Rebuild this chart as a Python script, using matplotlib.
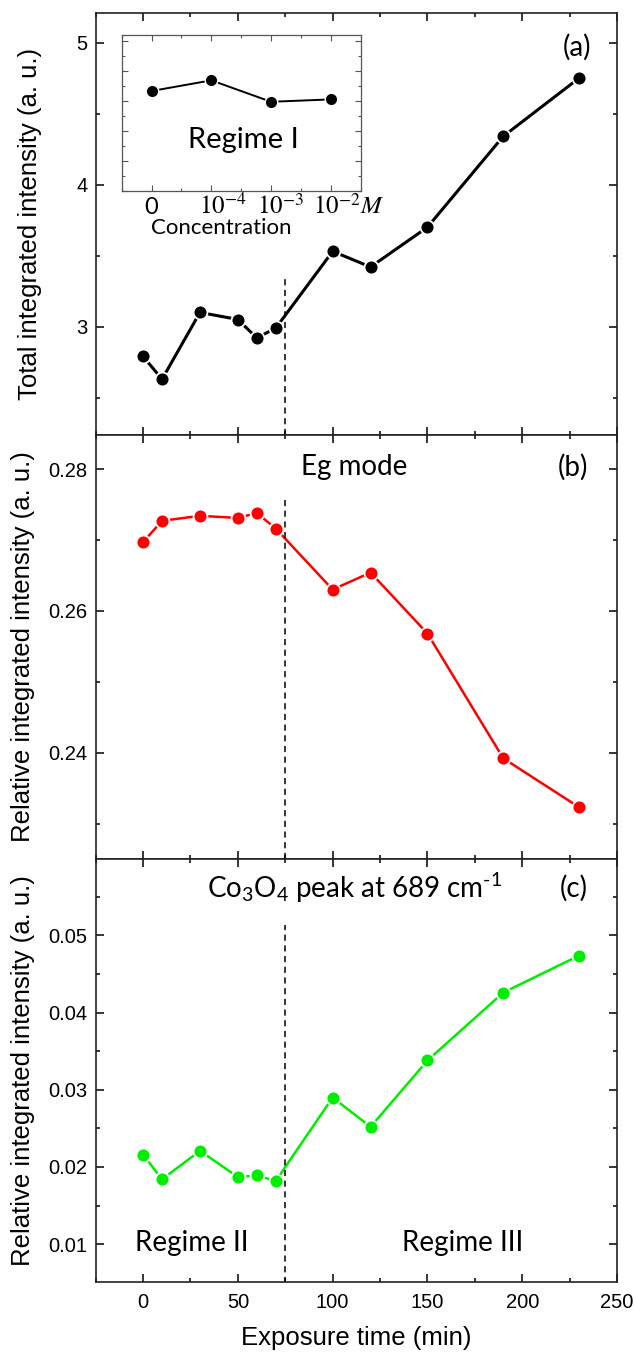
import matplotlib
matplotlib.use('Agg')
import matplotlib.pyplot as plt
from matplotlib.ticker import MultipleLocator

plt.rcParams['font.family'] = ['Liberation Sans', 'DejaVu Sans']
plt.rcParams['mathtext.fontset'] = 'custom'
plt.rcParams['mathtext.rm'] = 'Lato'
plt.rcParams['mathtext.it'] = 'Lato:italic'

# exposure time (min)
time = [0, 10, 30, 50, 60, 70, 100, 120, 150, 190, 230]
total = [2.79, 2.63, 3.10, 3.05, 2.92, 2.99, 3.53, 3.42, 3.70, 4.34, 4.75]
eg_mode = [0.2697, 0.2727, 0.2734, 0.2731, 0.2738, 0.2716, 0.2630, 0.2654, 0.2568, 0.2392, 0.2323]
co3o4 = [0.0216, 0.0184, 0.0221, 0.0187, 0.0189, 0.0182, 0.0290, 0.0252, 0.0338, 0.0426, 0.0474]

# inset: regime I
conc_pos = [0, 1, 2, 3]
conc_labels = ['0', '$10^{-4}$', '$10^{-3}$', '$10^{-2}M$']
regime1 = [6.67, 7.38, 5.95, 6.11]

t_split = 75
lab_font = 'Lato'

fig = plt.figure(figsize=(6.35, 13.53), dpi=100)
ax_a = fig.add_axes([0.1507, 0.6785, 0.821, 0.3121])
ax_b = fig.add_axes([0.1507, 0.3651, 0.821, 0.3134])
ax_c = fig.add_axes([0.1507, 0.05248, 0.821, 0.3126])


def style(ax):
    ax.tick_params(which='both', direction='in', top=True, right=True, labelsize=14.5)
    ax.tick_params(which='major', length=6, width=1.1, pad=6)
    ax.tick_params(which='minor', length=3, width=1.1)
    for s in ax.spines.values():
        s.set_linewidth(1.2)
        s.set_color('#222222')
    ax.set_xlim(-25, 250)
    ax.xaxis.set_major_locator(MultipleLocator(50))
    ax.xaxis.set_minor_locator(MultipleLocator(25))


mk = dict(marker='o', markersize=10, markeredgecolor='white', markeredgewidth=1.3)

# (a)
style(ax_a)
ax_a.plot(time, total, color='black', lw=2.2, markerfacecolor='black', **mk)
ax_a.vlines(t_split, 2.24, 3.34, colors='black', linestyles=(0, (4, 3)), lw=1.1)
ax_a.set_ylim(2.237, 5.21)
ax_a.yaxis.set_major_locator(MultipleLocator(1))
ax_a.yaxis.set_minor_locator(MultipleLocator(0.5))
ax_a.tick_params(labelbottom=False)
ax_a.set_ylabel('Total integrated intensity (a. u.)', fontsize=18.5)
ax_a.yaxis.set_label_coords(-0.103, 0.5)
ax_a.text(228.7, 4.97, '(a)', fontsize=20, family=lab_font, ha='center', va='center')

# (b)
style(ax_b)
ax_b.plot(time, eg_mode, color='#ff0000', lw=1.8, markerfacecolor='#ff0000', **mk)
ax_b.vlines(t_split, 0.225, 0.2761, colors='black', linestyles=(0, (4, 3)), lw=1.1)
ax_b.set_ylim(0.225, 0.2848)
ax_b.yaxis.set_major_locator(MultipleLocator(0.02))
ax_b.yaxis.set_minor_locator(MultipleLocator(0.01))
ax_b.tick_params(labelbottom=False)
ax_b.set_ylabel('Relative integrated intensity (a. u.)', fontsize=18.5)
ax_b.yaxis.set_label_coords(-0.1165, 0.5)
ax_b.text(111.5, 0.2803, 'Eg mode', fontsize=20, family=lab_font, ha='center', va='center')
ax_b.text(227, 0.2803, '(b)', fontsize=20, family=lab_font, ha='center', va='center')

# (c)
style(ax_c)
ax_c.plot(time, co3o4, color='#00ee00', lw=1.8, markerfacecolor='#00ee00', **mk)
ax_c.vlines(t_split, 0.005, 0.0514, colors='black', linestyles=(0, (4, 3)), lw=1.1)
ax_c.set_ylim(0.0051, 0.0599)
ax_c.yaxis.set_major_locator(MultipleLocator(0.01))
ax_c.yaxis.set_minor_locator(MultipleLocator(0.005))
ax_c.tick_params(axis='x', pad=8)
ax_c.set_ylabel('Relative integrated intensity (a. u.)', fontsize=18.5)
ax_c.yaxis.set_label_coords(-0.1165, 0.5)
ax_c.set_xlabel('Exposure time (min)', fontsize=18.5, labelpad=10)
ax_c.text(111.5, 0.0561, 'Co$_3$O$_4$ peak at 689 cm$^{\\text{-1}}$', fontsize=20, family=lab_font,
          ha='center', va='center')
ax_c.text(227, 0.0561, '(c)', fontsize=20, family=lab_font, ha='center', va='center')
ax_c.text(25.7, 0.0101, 'Regime II', fontsize=20, family=lab_font, ha='center', va='center')
ax_c.text(168.7, 0.0101, 'Regime III', fontsize=20, family=lab_font, ha='center', va='center')

# inset
ax_in = fig.add_axes([0.1917, 0.8588, 0.3764, 0.1153])
ax_in.plot(conc_pos, regime1, color='black', lw=1.4, marker='o', markersize=9,
           markerfacecolor='black', markeredgecolor='white', markeredgewidth=1.0)
ax_in.set_xlim(-0.5, 3.5)
ax_in.set_ylim(0, 10.4)
ax_in.set_xticks(conc_pos)
ax_in.set_xticklabels([])
shift = [0, 8.6, 6.5, 12.7]
for pos, lab, dx in zip(conc_pos, conc_labels, shift):
    ax_in.annotate(lab, xy=(pos, 0), xycoords=('data', 'axes fraction'),
                   xytext=(dx, -16.5), textcoords='offset points',
                   ha='center', va='baseline', family=lab_font,
                   fontsize=17 if pos == 0 else 18, math_fontfamily='stix',
                   annotation_clip=False)
ax_in.xaxis.set_minor_locator(MultipleLocator(0.5))
ax_in.yaxis.set_major_locator(MultipleLocator(2))
ax_in.yaxis.set_minor_locator(MultipleLocator(1))
ax_in.tick_params(which='both', direction='in', top=True, right=True, labelleft=False,
                  color='#555555', width=0.8)
ax_in.tick_params(which='major', length=4)
ax_in.tick_params(which='minor', length=2)
for s in ax_in.spines.values():
    s.set_linewidth(0.9)
    s.set_color('#555555')
ax_in.set_xlabel('Concentration', fontsize=16, family=lab_font)
ax_in.xaxis.set_label_coords(0.418, -0.175)
ax_in.text(1.53, 3.4, 'Regime I', fontsize=21, family=lab_font, ha='center', va='center')

fig.savefig('out.png', dpi=100)
